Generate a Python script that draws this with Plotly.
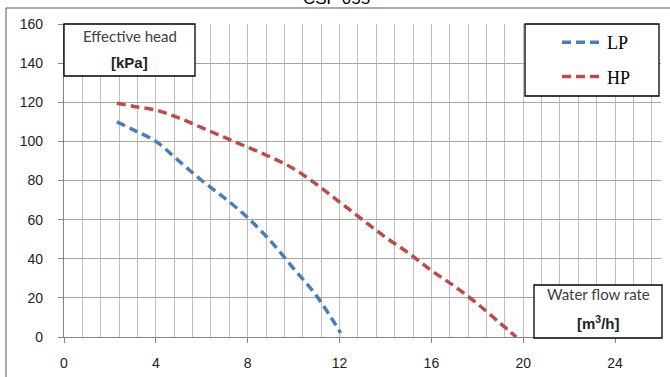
import plotly.graph_objects as go

lp_x = [2.3, 3.0, 4.0, 5.0, 6.0, 7.0, 8.0, 9.0, 10.0, 11.0, 12.05]
lp_y = [110, 106, 100, 90, 80, 71, 61, 49, 35, 21, 2]
hp_x = [2.3, 3, 4, 5, 6, 7, 8, 9, 10, 11, 12, 13, 14, 15, 16, 17, 18, 19, 19.7]
hp_y = [119.5, 118, 116, 112, 107, 102, 97, 92, 86, 78, 69, 60, 51, 43, 34, 26, 17, 7, 0]
x_ticks = [0, 4, 8, 12, 16, 20, 24]
y_ticks = [0, 20, 40, 60, 80, 100, 120, 140, 160]

W, H = 670, 377
L, R, T, B = 64, 661, 24, 337

def px(x):
    return (x - L) / (R - L)

def py(y):
    return (B - y) / (B - T)

fig = go.Figure()
fig.add_trace(go.Scatter(x=lp_x, y=lp_y, mode="lines", name="LP", legendgroup="a",
                         line=dict(color="#4a7ebb", width=3.5, dash="9px,5px", shape="spline")))
fig.add_trace(go.Scatter(x=hp_x, y=hp_y, mode="lines", name="HP", legendgroup="b",
                         line=dict(color="#be4b48", width=3.5, dash="9px,5px", shape="spline")))

shapes = [
    dict(type="line", xref="paper", yref="paper", x0=px(6), x1=px(672), y0=py(8), y1=py(8),
         line=dict(color="#8c8c8c", width=1.5)),
    dict(type="line", xref="paper", yref="paper", x0=px(6), x1=px(6), y0=py(8), y1=py(380),
         line=dict(color="#8c8c8c", width=1.5)),
    dict(type="rect", xref="paper", yref="paper", x0=px(64), x1=px(195), y0=py(24), y1=py(76),
         fillcolor="white", line=dict(color="black", width=1.3), layer="above"),
    dict(type="rect", xref="paper", yref="paper", x0=px(525), x1=px(659), y0=py(24), y1=py(96),
         fillcolor="white", line=dict(color="black", width=1.3), layer="above"),
    dict(type="rect", xref="paper", yref="paper", x0=px(534), x1=px(662), y0=py(285), y1=py(338),
         fillcolor="white", line=dict(color="black", width=1.3), layer="above"),
]

def note(text, x, y, family, size, color, yanchor="middle"):
    return dict(text=text, x=px(x), y=py(y), xref="paper", yref="paper", showarrow=False,
                xanchor="center", yanchor=yanchor,
                font=dict(family=family, size=size, color=color))

ann = [
    note("CSF 055", 336, 10, "Liberation Sans", 17, "#000000", yanchor="bottom"),
    note("Effective head", 129.5, 36, "Lato", 15, "#404040"),
    note("<b>[kPa]</b>", 129.5, 63, "Liberation Sans", 15, "#222222"),
    note("Water flow rate", 598, 294, "Lato", 15, "#404040"),
    note("<b>[m<sup>3</sup>/h]</b>", 598, 322, "Liberation Sans", 15, "#222222"),
]

fig.update_layout(
    width=W, height=H,
    margin=dict(l=L, r=W - R, t=T, b=H - B, pad=0, autoexpand=False),
    paper_bgcolor="white", plot_bgcolor="white",
    showlegend=True,
    legend=dict(x=px(557), y=py(24), xanchor="left", yanchor="top",
                bgcolor="rgba(0,0,0,0)", borderwidth=0, tracegroupgap=8,
                font=dict(family="Liberation Serif", size=18, color="#000000"),
                itemwidth=40),
    shapes=shapes, annotations=ann,
    xaxis=dict(range=[0, 26], tickvals=x_ticks, ticktext=[str(v) for v in x_ticks],
               showgrid=True, gridcolor="#bfbfbf", gridwidth=1.3,
               minor=dict(dtick=0.8, tick0=0, showgrid=True, gridcolor="#bfbfbf", gridwidth=1.3),
               showline=True, linecolor="#868686", linewidth=1.3,
               ticks="outside", ticklen=5, tickcolor="#868686", ticklabelstandoff=8,
               zeroline=False, fixedrange=True, automargin=False,
               tickfont=dict(family="Liberation Sans", size=14, color="#222222")),
    yaxis=dict(range=[0, 160], tickvals=y_ticks, ticktext=[str(v) for v in y_ticks],
               showgrid=True, gridcolor="#a6a6a6", gridwidth=1.3,
               showline=True, linecolor="#868686", linewidth=1.3,
               ticks="outside", ticklen=5, tickcolor="#868686", ticklabelstandoff=12,
               zeroline=False, fixedrange=True, automargin=False,
               tickfont=dict(family="Liberation Sans", size=14, color="#222222")),
)

fig.write_html("out.html", config={"displayModeBar": False},
               post_script="document.body.style.margin='0';")
